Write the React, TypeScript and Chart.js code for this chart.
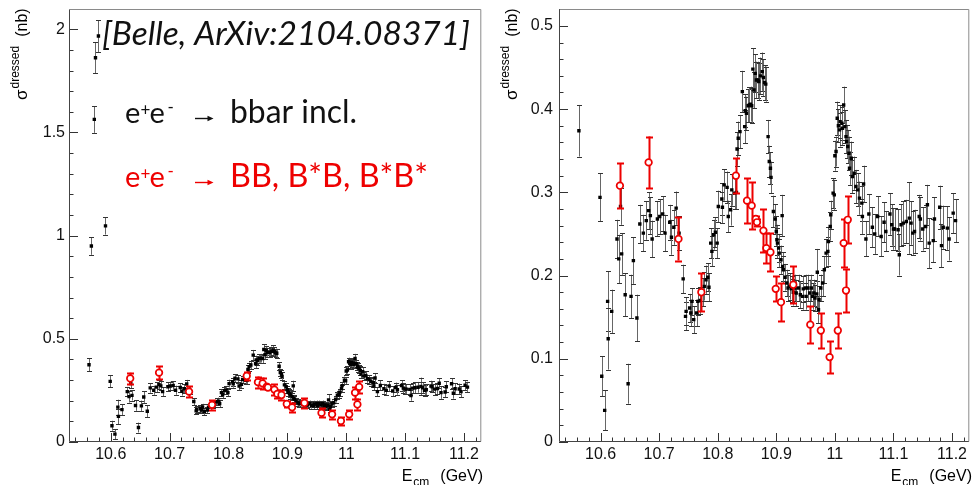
import React, { useEffect, useRef } from 'react';
import { Chart, registerables } from 'chart.js';

Chart.register(...registerables);

// ---------------- data ----------------
// e+e- -> bbar inclusive (black)
const bbE = [
  10.563, 10.567, 10.572, 10.574, 10.579, 10.591, 10.599, 10.602, 10.607, 10.612,
  10.613, 10.619, 10.628, 10.631, 10.634, 10.636, 10.642, 10.647, 10.652, 10.656,
  10.662, 10.667, 10.673, 10.678, 10.682, 10.685, 10.688, 10.697, 10.701, 10.706,
  10.710, 10.718, 10.721, 10.725, 10.729, 10.734, 10.741, 10.745, 10.746, 10.752,
  10.754, 10.756, 10.759, 10.764, 10.766, 10.770, 10.774, 10.777, 10.780, 10.783,
  10.785, 10.788, 10.790, 10.793, 10.796, 10.799, 10.801, 10.807, 10.808, 10.811,
  10.816, 10.818, 10.822, 10.824, 10.829, 10.832, 10.833, 10.835, 10.838, 10.842,
  10.846, 10.847, 10.849, 10.852, 10.854, 10.856, 10.858, 10.860, 10.862, 10.864,
  10.866, 10.869, 10.870, 10.873, 10.876, 10.878, 10.880, 10.882, 10.886, 10.888,
  10.890, 10.891, 10.895, 10.898, 10.900, 10.901, 10.902, 10.904, 10.905, 10.908,
  10.910, 10.911, 10.912, 10.915, 10.918, 10.920, 10.923, 10.926, 10.929, 10.932,
  10.934, 10.938, 10.941, 10.945, 10.946, 10.950, 10.951, 10.954, 10.957, 10.960,
  10.962, 10.964, 10.966, 10.969, 10.970, 10.972, 10.973, 10.976, 10.979, 10.982,
  10.985, 10.988, 10.989, 10.992, 10.993, 10.997, 10.999, 11.000, 11.002, 11.004,
  11.006, 11.008, 11.009, 11.012, 11.013, 11.015, 11.017, 11.019, 11.020, 11.022,
  11.024, 11.025, 11.028, 11.030, 11.033, 11.036, 11.039, 11.042, 11.046, 11.047,
  11.049, 11.053, 11.058, 11.064, 11.068, 11.073, 11.079, 11.084, 11.087, 11.094,
  11.097, 11.100, 11.102, 11.108, 11.110, 11.113, 11.117, 11.122, 11.127, 11.130,
  11.133, 11.136, 11.144, 11.146, 11.150, 11.155, 11.158, 11.161, 11.168, 11.170,
  11.179, 11.182, 11.185, 11.192, 11.195, 11.202, 11.206,
];
const bbSigma = [
  0.374, 0.950, 1.563, 1.862, 1.967, 1.047, 0.294, 0.079, 0.038, 0.169,
  0.124, 0.157, 0.244, 0.220, 0.283, 0.226, 0.177, 0.070, 0.175, 0.218,
  0.149, 0.262, 0.251, 0.266, 0.278, 0.272, 0.244, 0.268, 0.271, 0.274,
  0.251, 0.264, 0.246, 0.258, 0.281, 0.251, 0.196, 0.151, 0.157, 0.161,
  0.155, 0.169, 0.147, 0.155, 0.169, 0.170, 0.180, 0.187, 0.195, 0.198,
  0.186, 0.239, 0.229, 0.249, 0.252, 0.239, 0.283, 0.292, 0.282, 0.309,
  0.306, 0.271, 0.279, 0.303, 0.299, 0.300, 0.352, 0.365, 0.373, 0.421,
  0.379, 0.398, 0.395, 0.404, 0.405, 0.406, 0.404, 0.448, 0.423, 0.443,
  0.435, 0.435, 0.433, 0.440, 0.445, 0.438, 0.432, 0.430, 0.367, 0.337,
  0.329, 0.318, 0.277, 0.268, 0.253, 0.243, 0.239, 0.233, 0.227, 0.219,
  0.272, 0.211, 0.207, 0.198, 0.191, 0.185, 0.187, 0.184, 0.180, 0.185,
  0.179, 0.185, 0.177, 0.175, 0.184, 0.185, 0.175, 0.185, 0.179, 0.185,
  0.175, 0.179, 0.173, 0.178, 0.204, 0.159, 0.171, 0.185, 0.191, 0.207,
  0.227, 0.229, 0.241, 0.259, 0.273, 0.299, 0.297, 0.344, 0.349, 0.389,
  0.380, 0.375, 0.385, 0.383, 0.377, 0.405, 0.379, 0.367, 0.361, 0.355,
  0.347, 0.329, 0.341, 0.319, 0.323, 0.307, 0.303, 0.293, 0.287, 0.271,
  0.310, 0.244, 0.274, 0.258, 0.250, 0.271, 0.247, 0.264, 0.253, 0.274,
  0.261, 0.256, 0.256, 0.255, 0.225, 0.261, 0.263, 0.265, 0.269, 0.263,
  0.251, 0.253, 0.271, 0.268, 0.256, 0.259, 0.285, 0.239, 0.242, 0.268,
  0.282, 0.236, 0.258, 0.257, 0.244, 0.275, 0.266,
];
const bbErr = [
  0.031, 0.043, 0.065, 0.074, 0.077, 0.042, 0.029, 0.024, 0.024, 0.036,
  0.037, 0.026, 0.023, 0.029, 0.022, 0.025, 0.026, 0.024, 0.026, 0.028,
  0.028, 0.023, 0.022, 0.023, 0.022, 0.022, 0.022, 0.021, 0.021, 0.021,
  0.022, 0.021, 0.021, 0.021, 0.020, 0.020, 0.017, 0.017, 0.017, 0.017,
  0.016, 0.016, 0.016, 0.016, 0.016, 0.016, 0.017, 0.017, 0.017, 0.017,
  0.017, 0.018, 0.018, 0.018, 0.018, 0.018, 0.019, 0.019, 0.019, 0.019,
  0.019, 0.019, 0.019, 0.019, 0.019, 0.020, 0.020, 0.020, 0.020, 0.025,
  0.020, 0.020, 0.020, 0.020, 0.021, 0.021, 0.021, 0.025, 0.022, 0.023,
  0.022, 0.022, 0.022, 0.022, 0.023, 0.022, 0.021, 0.021, 0.020, 0.019,
  0.019, 0.019, 0.019, 0.018, 0.018, 0.018, 0.018, 0.017, 0.017, 0.017,
  0.025, 0.017, 0.016, 0.016, 0.016, 0.016, 0.016, 0.016, 0.016, 0.016,
  0.016, 0.016, 0.016, 0.016, 0.016, 0.016, 0.016, 0.016, 0.016, 0.016,
  0.016, 0.016, 0.016, 0.016, 0.028, 0.016, 0.016, 0.016, 0.016, 0.016,
  0.017, 0.017, 0.017, 0.017, 0.017, 0.018, 0.018, 0.018, 0.018, 0.020,
  0.020, 0.020, 0.020, 0.020, 0.020, 0.022, 0.020, 0.020, 0.020, 0.020,
  0.020, 0.020, 0.020, 0.020, 0.020, 0.020, 0.020, 0.020, 0.021, 0.021,
  0.022, 0.021, 0.024, 0.024, 0.024, 0.024, 0.024, 0.024, 0.024, 0.025,
  0.025, 0.025, 0.025, 0.025, 0.025, 0.025, 0.026, 0.026, 0.043, 0.026,
  0.026, 0.026, 0.026, 0.026, 0.026, 0.026, 0.024, 0.030, 0.026, 0.026,
  0.026, 0.026, 0.026, 0.026, 0.026, 0.024, 0.026,
];

// e+e- -> BB, B*B, B*B* (red)
const exE = [
  10.633, 10.682, 10.733, 10.772, 10.831, 10.850, 10.858, 10.865, 10.867, 10.878,
  10.883, 10.890, 10.899, 10.908, 10.929, 10.958, 10.976, 10.991, 11.005, 11.015,
  11.019, 11.022,
];
const exSigma = [
  0.308, 0.336, 0.244, 0.180, 0.320, 0.290, 0.284, 0.268, 0.264, 0.254,
  0.233, 0.228, 0.184, 0.168, 0.189, 0.141, 0.134, 0.102, 0.134, 0.239,
  0.182, 0.267,
];
const exErr = [
  0.027, 0.031, 0.026, 0.023, 0.021, 0.027, 0.028, 0.004, 0.004, 0.026,
  0.018, 0.023, 0.015, 0.023, 0.022, 0.022, 0.021, 0.019, 0.021, 0.029,
  0.026, 0.028,
];

// axes
const xMajorTicks = [10.6, 10.7, 10.8, 10.9, 11, 11.1, 11.2];
const leftYMajorTicks = [0, 0.5, 1, 1.5, 2];
const rightYMajorTicks = [0, 0.1, 0.2, 0.3, 0.4, 0.5];
const xTitleMain = 'E';
const xTitleSub = 'cm';
const xTitleUnit = '(GeV)';
const yTitleMain = 'σ';
const yTitleSup = 'dressed';
const yTitleUnit = '(nb)';
const refText = '[Belle, ArXiv:2104.08371]';
const line1Rhs = 'bbar incl.';
const line2Rhs = 'BB, B*B, B*B*';

// ---------------- styling ----------------
const SANS = '"Liberation Sans", Arial, Helvetica, sans-serif';
const TXT = 'Lato, "Open Sans", "Noto Sans", sans-serif';
const RED = '#ee0000';
const X_MIN = 10.529;
const X_MAX = 11.2295;

const errorBars = {
  id: 'errorBars',
  beforeDatasetDraw(chart: any, args: any) {
    const ds = chart.data.datasets[args.index];
    const errs: number[] | undefined = ds.errors;
    if (!errs) return;
    const { ctx, chartArea: a, scales } = chart;
    const x = scales.x;
    const y = scales.y;
    ctx.save();
    ctx.beginPath();
    ctx.rect(a.left, a.top, a.right - a.left, a.bottom - a.top);
    ctx.clip();
    ds.data.forEach((p: any, i: number) => {
      const px = Math.round(x.getPixelForValue(p.x)) + 0.5;
      const yt = y.getPixelForValue(p.y + errs[i]);
      const yb = y.getPixelForValue(p.y - errs[i]);
      ctx.lineWidth = ds.errWidth;
      ctx.strokeStyle = ds.errColor;
      ctx.beginPath();
      ctx.moveTo(px, yt);
      ctx.lineTo(px, yb);
      ctx.stroke();
      ctx.strokeStyle = ds.capColor;
      ctx.beginPath();
      ctx.moveTo(px - ds.capHalf, Math.round(yt) + 0.5);
      ctx.lineTo(px + ds.capHalf, Math.round(yt) + 0.5);
      ctx.moveTo(px - ds.capHalf, Math.round(yb) + 0.5);
      ctx.lineTo(px + ds.capHalf, Math.round(yb) + 0.5);
      ctx.stroke();
    });
    ctx.restore();
  },
};

function fitFont(ctx: CanvasRenderingContext2D, text: string, style: string, family: string, width: number) {
  ctx.font = `${style} 30px ${family}`;
  const w = ctx.measureText(text).width;
  return (30 * width) / w;
}

function drawReaction(ctx: CanvasRenderingContext2D, base: number, color: string, rhs: string, rhsWidth: number) {
  ctx.fillStyle = color;
  ctx.strokeStyle = color;
  ctx.textAlign = 'left';
  ctx.textBaseline = 'alphabetic';
  ctx.font = `29px ${TXT}`;
  ctx.fillText('e', 125, base);
  ctx.fillText('e', 149.5, base);
  ctx.font = `17px ${TXT}`;
  ctx.fillText('+', 140.5, base - 7);
  ctx.fillText('-', 167.5, base - 10);
  // arrow
  ctx.lineWidth = 1.4;
  ctx.beginPath();
  ctx.moveTo(195, base - 4.5);
  ctx.lineTo(209, base - 4.5);
  ctx.stroke();
  ctx.beginPath();
  ctx.moveTo(213.5, base - 4.5);
  ctx.lineTo(207.5, base - 7.3);
  ctx.lineTo(207.5, base - 1.7);
  ctx.closePath();
  ctx.fill();
  const size = fitFont(ctx, rhs, '', TXT, rhsWidth);
  ctx.font = `${size}px ${TXT}`;
  ctx.fillText(rhs, 230, base);
}

const decor = {
  id: 'decor',
  afterDraw(chart: any) {
    const opts = chart.options.plugins.decor;
    const { ctx, chartArea: a, scales } = chart;
    const x = scales.x;
    const y = scales.y;
    ctx.save();
    // ticks (inside the frame)
    ctx.strokeStyle = '#333';
    ctx.lineWidth = 1;
    ctx.beginPath();
    for (let k = Math.ceil(X_MIN / 0.02 - 1e-6); k * 0.02 <= X_MAX + 1e-9; k++) {
      const px = Math.round(x.getPixelForValue(k * 0.02)) + 0.5;
      const len = k % 5 === 0 ? 9 : 4.5;
      ctx.moveTo(px, a.bottom);
      ctx.lineTo(px, a.bottom - len);
    }
    const ystep = opts.yMinorStep;
    for (let k = 0; k * ystep <= y.max + 1e-9; k++) {
      const py = Math.round(y.getPixelForValue(k * ystep)) + 0.5;
      const len = k % 5 === 0 ? 9 : 4.5;
      ctx.moveTo(a.left, py);
      ctx.lineTo(a.left + len, py);
    }
    ctx.stroke();
    // frame
    ctx.lineWidth = 1;
    ctx.strokeStyle = '#8a8a8a';
    ctx.beginPath();
    ctx.moveTo(a.left + 0.5, a.top + 0.5);
    ctx.lineTo(a.right - 0.5, a.top + 0.5);
    ctx.lineTo(a.right - 0.5, a.bottom - 0.5);
    ctx.stroke();
    ctx.strokeStyle = '#444';
    ctx.beginPath();
    ctx.moveTo(a.left + 0.5, a.top + 0.5);
    ctx.lineTo(a.left + 0.5, a.bottom - 0.5);
    ctx.lineTo(a.right - 0.5, a.bottom - 0.5);
    ctx.stroke();

    // y title (rotated)
    ctx.fillStyle = '#000';
    ctx.textAlign = 'left';
    ctx.textBaseline = 'alphabetic';
    ctx.save();
    ctx.translate(opts.yTitleX, 100);
    ctx.rotate(-Math.PI / 2);
    ctx.font = `17px ${SANS}`;
    ctx.fillText(yTitleMain, 0, 0);
    let off = ctx.measureText(yTitleMain).width + 1;
    ctx.font = `12px ${SANS}`;
    ctx.fillText(yTitleSup, off, -8.5);
    off += ctx.measureText(yTitleSup).width + 9;
    ctx.font = `16px ${SANS}`;
    ctx.fillText(yTitleUnit, off, 0);
    ctx.restore();

    // x title
    ctx.font = `16px ${SANS}`;
    const wE = ctx.measureText(xTitleMain).width;
    const wU = ctx.measureText(xTitleUnit).width;
    ctx.font = `12px ${SANS}`;
    const wS = ctx.measureText(xTitleSub).width;
    const total = wE + 1 + wS + 11 + wU;
    let sx = opts.xTitleRight - total;
    ctx.font = `16px ${SANS}`;
    ctx.fillText(xTitleMain, sx, 481);
    sx += wE + 1;
    ctx.font = `12px ${SANS}`;
    ctx.fillText(xTitleSub, sx, 486);
    sx += wS + 11;
    ctx.font = `16px ${SANS}`;
    ctx.fillText(xTitleUnit, sx, 481);

    // annotations (left panel only)
    if (opts.annotate) {
      ctx.fillStyle = '#111';
      const s = fitFont(ctx, refText, 'italic', TXT, 368);
      ctx.font = `italic ${s}px ${TXT}`;
      ctx.fillText(refText, 102, 45);
      drawReaction(ctx, 123, '#111', line1Rhs, 127);
      drawReaction(ctx, 187, RED, line2Rhs, 198);
    }
    ctx.restore();
  },
};

function makeConfig(side: 'left' | 'right'): any {
  const isLeft = side === 'left';
  const yMajor = isLeft ? leftYMajorTicks : rightYMajorTicks;
  return {
    type: 'scatter',
    data: {
      datasets: [
        {
          label: 'e+e- -> BB, B*B, B*B*',
          data: exE.map((e, i) => ({ x: e, y: exSigma[i] })),
          errors: exErr,
          errColor: RED,
          capColor: RED,
          errWidth: 2,
          capHalf: 3.5,
          pointStyle: 'circle',
          pointRadius: 3.3,
          pointBorderWidth: 1.7,
          pointBorderColor: RED,
          pointBackgroundColor: '#ffffff',
        },
        {
          label: 'e+e- -> bbar incl.',
          data: bbE.map((e, i) => ({ x: e, y: bbSigma[i] })),
          errors: bbErr,
          errColor: '#666',
          capColor: '#333',
          errWidth: 1,
          capHalf: 2.5,
          pointStyle: 'rect',
          pointRadius: 2.4,
          pointBorderWidth: 0,
          pointBackgroundColor: '#000',
          pointBorderColor: '#000',
        },
      ],
    },
    options: {
      responsive: false,
      animation: false,
      events: [],
      layout: { padding: { top: 9, right: isLeft ? 3 : 1, left: 0, bottom: 0 } },
      plugins: {
        legend: { display: false },
        tooltip: { enabled: false },
        decor: {
          yMinorStep: isLeft ? 0.1 : 0.02,
          yTitleX: isLeft ? 27 : 30,
          xTitleRight: isLeft ? 483 : 485,
          annotate: isLeft,
        },
      },
      scales: {
        x: {
          type: 'linear',
          min: X_MIN,
          max: X_MAX,
          afterBuildTicks: (s: any) => {
            s.ticks = xMajorTicks.map((v) => ({ value: v }));
          },
          afterFit: (s: any) => {
            s.height = 43;
            s.paddingLeft = 0;
            s.paddingRight = 0;
          },
          grid: { display: false, drawTicks: false },
          border: { display: false },
          ticks: {
            padding: 3,
            autoSkip: false,
            maxRotation: 0,
            color: '#111',
            font: { family: SANS, size: 16 },
            callback: (v: number) => String(Math.round(v * 10) / 10),
          },
        },
        y: {
          type: 'linear',
          min: 0,
          max: isLeft ? 2.098 : 0.5203,
          afterBuildTicks: (s: any) => {
            s.ticks = yMajor.map((v) => ({ value: v }));
          },
          afterFit: (s: any) => {
            s.width = isLeft ? 69 : 72;
            s.paddingTop = 0;
            s.paddingBottom = 0;
          },
          grid: { display: false, drawTicks: false },
          border: { display: false },
          ticks: {
            padding: isLeft ? 4 : 6,
            autoSkip: false,
            color: '#111',
            font: { family: SANS, size: 16 },
            callback: (v: number) => String(Math.round(v * 10) / 10),
          },
        },
      },
    },
    plugins: [errorBars, decor],
  };
}

export default function App() {
  const leftRef = useRef<HTMLCanvasElement | null>(null);
  const rightRef = useRef<HTMLCanvasElement | null>(null);
  useEffect(() => {
    const c1 = new Chart(leftRef.current as HTMLCanvasElement, makeConfig('left'));
    const c2 = new Chart(rightRef.current as HTMLCanvasElement, makeConfig('right'));
    return () => {
      c1.destroy();
      c2.destroy();
    };
  }, []);
  return (
    <div style={{ position: 'fixed', left: 0, top: 0, width: 975, height: 485, background: '#fff', overflow: 'hidden' }}>
      <canvas ref={leftRef} width={487} height={485} style={{ position: 'absolute', left: 0, top: 0, width: 487, height: 485 }} />
      <canvas ref={rightRef} width={488} height={485} style={{ position: 'absolute', left: 487, top: 0, width: 488, height: 485 }} />
    </div>
  );
}
